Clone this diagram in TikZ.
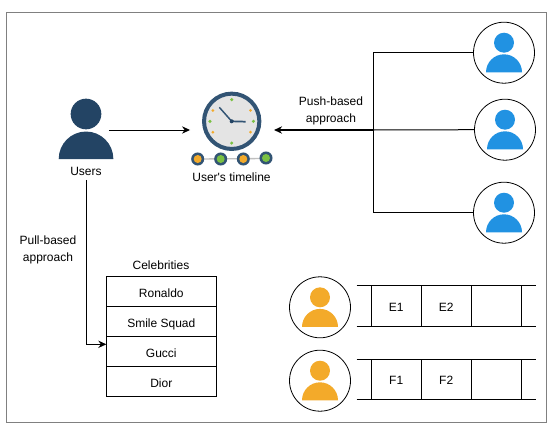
\documentclass[tikz,border=0pt]{standalone}
\usepackage{fontspec}
\setmainfont{Liberation Sans}
\usepackage{xcolor}
\usepackage{tikz}
\usetikzlibrary{arrows.meta}
\definecolor{userdark}{RGB}{35,68,100}
\definecolor{subblue}{RGB}{33,146,226}
\definecolor{celeborange}{RGB}{243,170,42}
\definecolor{clockface}{RGB}{228,228,228}
\definecolor{clockring}{RGB}{50,84,116}
\definecolor{tickgreen}{RGB}{122,193,67}
\tikzset{
  txt/.style={font=\fontsize{9pt}{12.75pt}\selectfont, inner sep=3.33pt, align=center},
  avatar/.style={draw, circle, minimum size=45.75pt, inner sep=0pt, line width=0.6pt},
  row/.style={draw, txt, text height=8pt, text depth=0pt, minimum width=82.5pt, minimum height=22.5pt, inner sep=0pt, outer sep=0pt, line width=0.75pt},
  cell/.style={draw, txt, text height=8pt, text depth=0pt, minimum width=37.5pt, minimum height=30.4pt, inner sep=0pt, outer sep=0pt, line width=0.75pt},
  link/.style={line width=0.75pt},
  flow/.style={line width=0.75pt, -{Stealth[length=6pt,width=5.5pt]}},
}
\newcommand{\personicon}[2]{%
  \begin{scope}[shift={(#1)}]
    \fill[#2] (0,-10) circle (7.5pt);
    \fill[#2] (-18,19.6) arc[start angle=180, end angle=0, radius=13.5pt] -- cycle;
  \end{scope}}
\newcommand{\trackdot}[2]{%
  \fill[clockring] (#1) circle (4.9pt);
  \fill[#2] (#1) circle (3pt);}

\begin{document}
\begin{tikzpicture}[x=0.75pt,y=-0.75pt]
    \useasboundingbox (0,0) rectangle (556,432);
    \draw[gray, line width=0.75pt] (6,12.5) rectangle (546,422);

    % Users
    \node[minimum width=34pt, minimum height=40pt, inner sep=0pt] (users) at (86,130) {};
    \fill[userdark] (86,114) circle (11.5pt);
    \fill[userdark] (58.7,159) arc[start angle=180, end angle=0, x radius=20.5pt, y radius=20.6pt] -- cycle;
    \node[txt] (userslabel) at (86,171) {Users};

    % Clock
    \node[circle, fill=clockface, draw=clockring, line width=3pt, minimum size=41.5pt, inner sep=0pt] (clock) at (231.7,121.3) {};
    \foreach \ang in {0,90,180,270}
        \fill[tickgreen] (clock.center) ++(\ang:16.3pt) circle (1.3pt);
    \foreach \ang in {30,150,210,330}
        \fill[celeborange] (clock.center) ++(\ang:16.3pt) circle (1.1pt);
    \draw[clockring, line width=1.1pt] (clock.center) -- (219.3,107.3);
    \draw[clockring, line width=1.3pt] (clock.center) -- (245.7,121.7);
    \fill[userdark] (clock.center) circle (1.5pt);

    % Timeline dots
    \draw[lightgray, line width=1pt] (197.7,159) -- (266,158.5);
    \trackdot{197.7,159}{celeborange}
    \trackdot{220.7,159}{tickgreen}
    \trackdot{243.3,159}{celeborange}
    \trackdot{266,158}{tickgreen}
    \node[txt] (timeline) at (231.5,177) {User\textquotesingle s timeline};

    % Followed accounts
    \node[avatar] (subone) at (504,52.7) {};
    \node[avatar] (subtwo) at (505,129.7) {};
    \node[avatar] (subthree) at (504,212.7) {};
    \personicon{subone}{subblue}
    \personicon{subtwo}{subblue}
    \personicon{subthree}{subblue}
    \coordinate (pushjoin) at (373.3,130);
    \draw[link] (subone.west) -- (subone.west -| pushjoin) -- (subthree.west -| pushjoin) -- (subthree.west);
    \draw[link] (subtwo.west) -- (pushjoin);
    \draw[flow, line width=1.1pt, shorten >=9.5pt] (pushjoin) -- (pushjoin -| clock.east);
    \draw[flow, shorten >=9pt] (users.east) -- (users.east -| clock.west);
    \node[txt] (pushlabel) at (331,111) {Push-based\\approach};

    % Celebrities
    \node[txt] (celebs) at (161,265.5) {Celebrities};
    \node[row] (ronaldo) at (161.3,291.7) {Ronaldo};
    \node[row, anchor=north] (smile) at (ronaldo.south) {Smile Squad};
    \node[row, anchor=north] (gucci) at (smile.south) {Gucci};
    \node[row, anchor=north] (dior) at (gucci.south) {Dior};
    \coordinate (guccientry) at (106.3,344.3);
    \draw[flow] (userslabel.south) |- (guccientry);
    \node[txt] (pulllabel) at (48,249.8) {Pull-based\\approach};

    % Event queues
    \node[avatar] (ownere) at (320,307.3) {};
    \node[avatar] (ownerf) at (320,380.7) {};
    \personicon{ownere}{celeborange}
    \personicon{ownerf}{celeborange}
    \node[cell] (eone) at (396.2,306) {E1};
    \node[cell, anchor=west] (etwo) at (eone.east) {E2};
    \node[cell, anchor=west] (ethree) at (etwo.east) {};
    \node[cell] (fone) at (396.2,379.5) {F1};
    \node[cell, anchor=west] (ftwo) at (fone.east) {F2};
    \node[cell, anchor=west] (fthree) at (ftwo.east) {};
    \draw[link] ([xshift=-11pt]eone.north west) -- (eone.north west);
    \draw[link] ([xshift=-11pt]eone.south west) -- (eone.south west);
    \draw[link] (ethree.north east) -- ([xshift=11pt]ethree.north east);
    \draw[link] (ethree.south east) -- ([xshift=11pt]ethree.south east);
    \draw[link] ([xshift=-11pt]fone.north west) -- (fone.north west);
    \draw[link] ([xshift=-11pt]fone.south west) -- (fone.south west);
    \draw[link] (fthree.north east) -- ([xshift=11pt]fthree.north east);
    \draw[link] (fthree.south east) -- ([xshift=11pt]fthree.south east);
\end{tikzpicture}
\end{document}
